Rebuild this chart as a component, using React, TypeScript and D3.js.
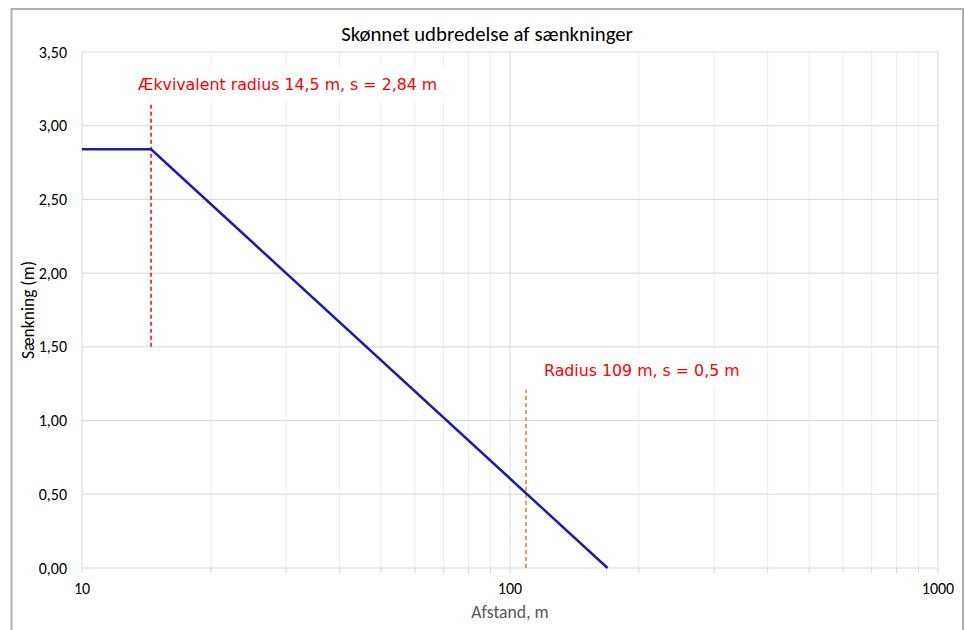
import React from "react";
import * as d3 from "d3";

const lineX = [10, 14.5, 169];
const lineY = [2.84, 2.84, 0];
const yTicks = [0, 0.5, 1, 1.5, 2, 2.5, 3, 3.5];
const xMajor = [10, 100, 1000];
const xMinor = [20, 30, 40, 50, 60, 70, 80, 90, 200, 300, 400, 500, 600, 700, 800, 900];
const markerA = { x: 14.5, y0: 1.5, y1: 3.15, label: "Ækvivalent radius 14,5 m, s = 2,84 m", labelY: 3.283 };
const markerB = { x: 109, y0: 0, y1: 1.21, label: "Radius 109 m, s = 0,5 m", labelY: 1.343 };

const W = 965, H = 630;
const L = 82, R = 938, T = 52, B = 568;

export default function App() {
  const x = d3.scaleLog().domain([10, 1000]).range([L, R]);
  const y = d3.scaleLinear().domain([0, 3.5]).range([B, T]);
  const fmt = (v: number) => v.toFixed(2).replace(".", ",");
  const line = d3.line<number>().x((_, i) => x(lineX[i])).y((d) => y(d));
  const font = "Carlito, 'Open Sans', sans-serif";
  const labelFont = "'DejaVu Sans', Verdana, sans-serif";
  return (
    <svg width={W} height={H} style={{ position: "absolute", left: 0, top: 0 }}>
      <rect x={0} y={0} width={W} height={H} fill="#fff" />
      <rect x={11.5} y={9} width={951.5} height={640} fill="#fff" stroke="#b0b0b0" strokeWidth={2} />
      {xMinor.map((v) => (
        <line key={"mn" + v} x1={x(v)} x2={x(v)} y1={T} y2={B} stroke="#efefef" strokeWidth={1} />
      ))}
      {yTicks.map((v) => (
        <line key={"gy" + v} x1={L} x2={R} y1={y(v)} y2={y(v)} stroke="#d9d9d9" strokeWidth={1} />
      ))}
      {xMajor.map((v) => (
        <line key={"mj" + v} x1={x(v)} x2={x(v)} y1={T} y2={B} stroke="#d9d9d9" strokeWidth={1} />
      ))}
      {[...xMajor, ...xMinor].map((v) => (
        <line key={"tk" + v} x1={x(v)} x2={x(v)} y1={B} y2={B + 5} stroke="#d9d9d9" strokeWidth={1} />
      ))}
      {yTicks.map((v) => (
        <text key={"yl" + v} x={L - 15} y={y(v)} dy="0.35em" textAnchor="end" fontFamily={font} fontSize={16} fill="#000">
          {fmt(v)}
        </text>
      ))}
      {xMajor.map((v) => (
        <text key={"xl" + v} x={x(v)} y={594} textAnchor="middle" fontFamily={font} fontSize={16} fill="#000">
          {v}
        </text>
      ))}
      <text x={487} y={41} textAnchor="middle" fontFamily={font} fontSize={20.8} fill="#000">
        Skønnet udbredelse af sænkninger
      </text>
      <text x={x(100)} y={618} textAnchor="middle" fontFamily={font} fontSize={17.7} fill="#595959">
        Afstand, m
      </text>
      <text transform={`translate(28,${(T + B) / 2}) rotate(-90)`} textAnchor="middle" dy="0.35em" fontFamily={font} fontSize={17.5} fill="#000">
        Sænkning (m)
      </text>
      {[markerA, markerB].map((m, i) => {
        const tx = i === 0 ? 138 : 544;
        const tw = i === 0 ? 302 : 197;
        return (
          <g key={"lb" + i}>
            <rect x={tx - 6} y={y(m.labelY) - 17} width={tw + 12} height={34} fill="#fff" />
            <text x={tx} y={y(m.labelY)} dy="0.35em" fontFamily={labelFont} fontSize={15.8} fill="#ff0000">
              {m.label}
            </text>
          </g>
        );
      })}
      <line x1={x(markerA.x)} x2={x(markerA.x)} y1={y(markerA.y0)} y2={y(markerA.y1)} stroke="#ff0000" strokeWidth={1.5} strokeDasharray="4,3" />
      <line x1={x(markerB.x)} x2={x(markerB.x)} y1={y(markerB.y0)} y2={y(markerB.y1)} stroke="#ed7d31" strokeWidth={1.5} strokeDasharray="4,3" />
      <path d={line(lineY) || ""} fill="none" stroke="#1c1ca8" strokeWidth={2.5} />
    </svg>
  );
}
